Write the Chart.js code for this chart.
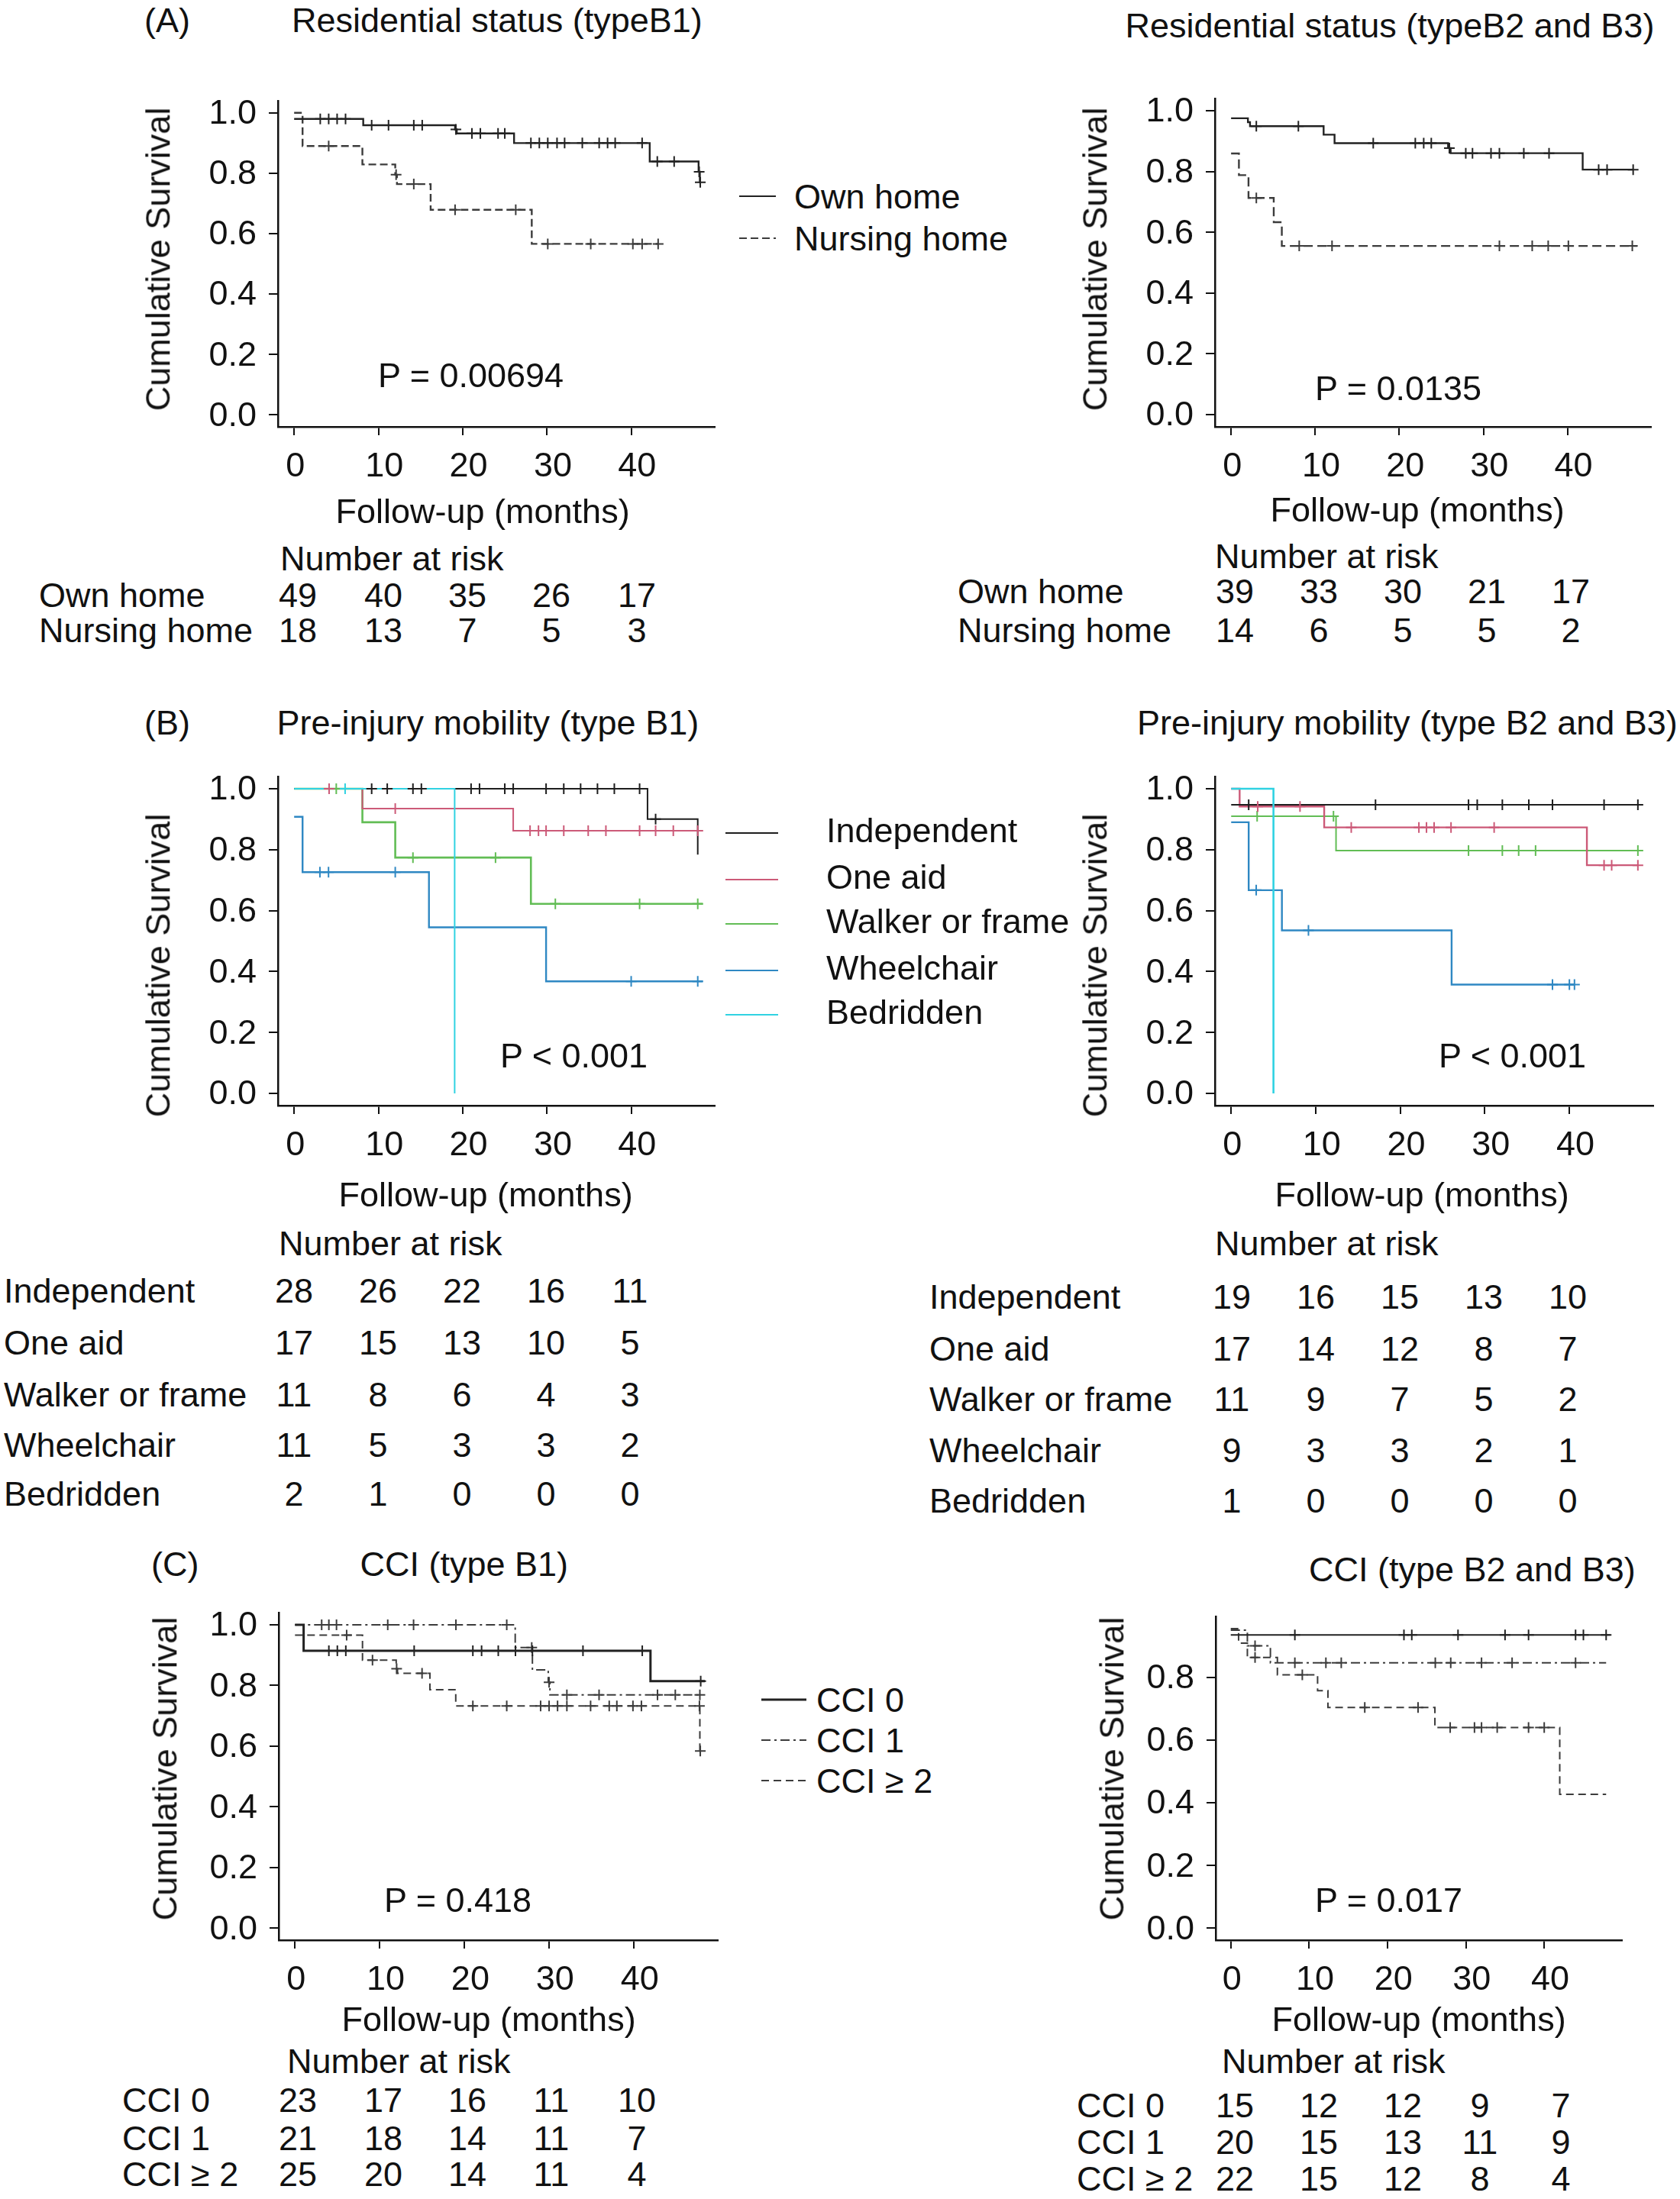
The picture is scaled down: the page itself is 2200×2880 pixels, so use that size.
<!DOCTYPE html>
<html><head><meta charset="utf-8">
<script src="https://cdn.jsdelivr.net/npm/chart.js@4.4.1/dist/chart.umd.min.js"></script>
<style>
html,body{margin:0;padding:0;background:#fff;}
#page{position:relative;width:2200px;height:2880px;overflow:hidden;background:#fff;font-family:'Liberation Sans',Arial,Helvetica,sans-serif;color:#111;}
.t{position:absolute;white-space:nowrap;}
canvas{position:absolute;}
svg{position:absolute;overflow:visible;}
</style></head><body><div id="page"></div>
<script>
// ---------------- DATA ----------------
const TIME_TICKS = [0, 10, 20, 30, 40];
const SURV_TICKS = [0, 0.2, 0.4, 0.6, 0.8, 1.0];
const SURV_TICKS_C2 = [0, 0.2, 0.4, 0.6, 0.8];

// (A) Residential status, type B1
const A1_own_t = [0, 8.2, 19.1, 19.3, 26.1, 42.2, 48.0, 48.15];
const A1_own_s = [0.980, 0.959, 0.945, 0.932, 0.900, 0.839, 0.805, 0.770];
const A1_own_c = [3.1, 4.1, 5.1, 6.1, 9.2, 11.2, 14.2, 15.2, 19.2, 21.1, 22.1, 24.2, 25.0, 28.1, 29.1, 30.1, 31.2, 32.1, 34.2, 36.2, 37.2, 38.1, 41.3, 43.1, 45.1, 48.07, 48.2];
const A1_nh_t = [0, 1.0, 8.1, 12.0, 12.2, 16.2, 28.2];
const A1_nh_s = [1.0, 0.890, 0.829, 0.795, 0.764, 0.679, 0.566];
const A1_nh_c = [4.1, 12.1, 14.2, 19.1, 26.3, 30.1, 35.2, 40.2, 41.3, 43.2];

// (A) Residential status, type B2 and B3
const A2_own_t = [0, 2.0, 2.25, 11.0, 12.3, 25.8, 26.1, 41.8];
const A2_own_s = [0.975, 0.962, 0.949, 0.921, 0.893, 0.877, 0.860, 0.806];
const A2_own_c = [3.0, 8.0, 16.9, 21.9, 22.9, 23.8, 25.95, 27.9, 28.7, 30.9, 31.9, 34.8, 37.8, 43.7, 44.7, 47.8];
const A2_nh_t = [0, 0.93, 2.07, 5.07, 6.03];
const A2_nh_s = [0.859, 0.788, 0.713, 0.633, 0.555];
const A2_nh_c = [3.0, 8.1, 12.0, 31.9, 35.8, 37.7, 40.1, 47.7];

// (B) Pre-injury mobility, type B1
const B1_ind_t = [0, 41.94, 47.9];
const B1_ind_s = [1.0, 0.900, 0.784];
const B1_ind_c = [9.2, 11.05, 14.1, 15.1, 21.0, 22.0, 25.0, 26.0, 29.9, 32.0, 34.0, 36.0, 38.0, 41.0, 42.9];
const B1_one_t = [0, 8.1, 26.0];
const B1_one_s = [1.0, 0.935, 0.862];
const B1_one_c = [4.15, 12.0, 28.0, 29.0, 29.9, 32.0, 34.9, 37.0, 41.0, 42.9, 45.0, 47.9];
const B1_wal_t = [0, 8.1, 12.0, 28.1];
const B1_wal_s = [1.0, 0.890, 0.774, 0.622];
const B1_wal_c = [5.0, 14.1, 23.9, 31.0, 41.0, 47.9];
const B1_whe_t = [0, 1.0, 16.0, 29.9];
const B1_whe_s = [0.908, 0.726, 0.545, 0.368];
const B1_whe_c = [3.06, 4.08, 12.0, 40.0, 47.9];
const B1_bed_t = [0, 19.05];
const B1_bed_s = [1.0, 0.0];
const B1_bed_c = [6.05];

// (B) Pre-injury mobility, type B2 and B3
const B2_ind_t = [0];
const B2_ind_s = [0.947];
const B2_ind_c = [2.07, 17.07, 28.07, 29.1, 32.07, 35.2, 38.0, 44.1, 48.1];
const B2_one_t = [0, 1.0, 11.0, 42.07];
const B2_one_s = [1.0, 0.9415, 0.873, 0.749];
const B2_one_c = [3.14, 8.14, 14.2, 22.2, 23.1, 24.0, 26.0, 31.1, 44.1, 45.0, 48.1];
const B2_wal_t = [0, 12.4];
const B2_wal_s = [0.910, 0.797];
const B2_wal_c = [3.07, 12.1, 28.07, 32.07, 34.0, 36.0, 48.1];
const B2_whe_t = [0, 2.07, 6.0, 26.07];
const B2_whe_s = [0.890, 0.667, 0.535, 0.357];
const B2_whe_c = [2.96, 9.14, 38.0, 40.0, 40.6];
const B2_bed_t = [0, 5.0];
const B2_bed_s = [1.0, 0.0];
const B2_bed_c = [];

// (C) CCI, type B1
const C1_c0_t = [0, 1.02, 41.97];
const C1_c0_s = [1.0, 0.914, 0.814];
const C1_c0_c = [4.0, 5.0, 6.0, 14.07, 21.0, 22.03, 24.0, 26.03, 28.03, 34.0, 41.0, 47.9];
const C1_c1_t = [0, 26.0, 28.03, 29.9, 30.1];
const C1_c1_s = [1.0, 0.925, 0.851, 0.810, 0.769];
const C1_c1_c = [3.15, 4.0, 4.9, 10.95, 14.0, 19.0, 25.0, 27.95, 30.0, 32.1, 35.9, 42.8, 44.9, 47.8];
const C1_c2_t = [0, 7.97, 11.95, 12.1, 15.93, 18.98, 47.8];
const C1_c2_s = [0.966, 0.883, 0.855, 0.840, 0.786, 0.732, 0.584];
const C1_c2_c = [6.1, 9.15, 12.0, 15.0, 21.0, 25.0, 29.0, 30.0, 31.0, 32.1, 34.9, 37.1, 38.0, 39.9, 40.9, 47.75, 47.85];

// (C) CCI, type B2 and B3
const C2_c0_t = [0];
const C2_c0_s = [0.935];
const C2_c0_c = [8.18, 22.1, 23.1, 29.0, 35.0, 38.0, 44.0, 45.0, 47.9];
const C2_c1_t = [0, 2.12, 5.06];
const C2_c1_s = [0.950, 0.900, 0.846];
const C2_c1_c = [3.1, 8.18, 12.14, 14.1, 26.1, 28.07, 32.0, 35.9, 44.0];
const C2_c2_t = [0, 1.0, 2.12, 5.95, 11.08, 12.4, 26.05, 41.98];
const C2_c2_s = [0.955, 0.909, 0.863, 0.808, 0.757, 0.704, 0.640, 0.427];
const C2_c2_c = [3.1, 9.13, 17.1, 23.9, 28.0, 31.1, 32.0, 34.0, 38.0, 40.0];

// Curve end times (last follow-up drawn)
const A1_end = [48.2, 43.2], A2_end = [47.8, 48.3];
const B1_end = [47.9, 48.5, 48.5, 48.5, 19.05], B2_end = [48.1, 48.1, 48.5, 40.6, 5.0];
const C1_end = [48.4, 47.8, 47.85], C2_end = [48.4, 47.9, 47.9];

// Number at risk tables
const A_groups = ['Own home', 'Nursing home'];
const A1_risk = [[49, 40, 35, 26, 17], [18, 13, 7, 5, 3]];
const A2_risk = [[39, 33, 30, 21, 17], [14, 6, 5, 5, 2]];
const B_groups = ['Independent', 'One aid', 'Walker or frame', 'Wheelchair', 'Bedridden'];
const B1_risk = [[28, 26, 22, 16, 11], [17, 15, 13, 10, 5], [11, 8, 6, 4, 3], [11, 5, 3, 3, 2], [2, 1, 0, 0, 0]];
const B2_risk = [[19, 16, 15, 13, 10], [17, 14, 12, 8, 7], [11, 9, 7, 5, 2], [9, 3, 3, 2, 1], [1, 0, 0, 0, 0]];
const C_groups = ['CCI 0', 'CCI 1', 'CCI \u2265 2'];
const C1_risk = [[23, 17, 16, 11, 10], [21, 18, 14, 11, 7], [25, 20, 14, 11, 4]];
const C2_risk = [[15, 12, 12, 9, 7], [20, 15, 13, 11, 9], [22, 15, 12, 8, 4]];

const P_VALUES = ['P = 0.00694', 'P = 0.0135', 'P < 0.001', 'P < 0.001', 'P = 0.418', 'P = 0.017'];

// ---------------- RENDERING ----------------
const FONT = "'Liberation Sans', Arial, Helvetica, sans-serif";
const FS = 45;
const INK = '#111';
const page = document.getElementById('page');

function txt(s, x, y, anchor, rot) {
  const d = document.createElement('div');
  d.className = 't';
  d.textContent = s;
  d.style.fontSize = FS + 'px';
  d.style.lineHeight = FS + 'px';
  page.appendChild(d);
  const w = d.offsetWidth;
  let left = x;
  if (anchor === 'center') left = x - w / 2;
  else if (anchor === 'right') left = x - w;
  d.style.left = left + 'px';
  d.style.top = (y - FS * 0.49) + 'px';
  if (rot) {
    d.style.left = (x - w / 2) + 'px';
    d.style.top = (y - FS / 2) + 'px';
    d.style.transform = 'rotate(-90deg)';
    d.style.transformOrigin = '50% 50%';
  }
  return d;
}

function legLine(x1, x2, y, color, dash, width) {
  const ns = 'http://www.w3.org/2000/svg';
  const svg = document.createElementNS(ns, 'svg');
  svg.setAttribute('width', x2 - x1);
  svg.setAttribute('height', 10);
  svg.style.left = x1 + 'px';
  svg.style.top = (y - 5) + 'px';
  const ln = document.createElementNS(ns, 'line');
  ln.setAttribute('x1', 0); ln.setAttribute('x2', x2 - x1);
  ln.setAttribute('y1', 5); ln.setAttribute('y2', 5);
  ln.setAttribute('stroke', color);
  ln.setAttribute('stroke-width', width || 2);
  if (dash) ln.setAttribute('stroke-dasharray', dash.join(' '));
  svg.appendChild(ln);
  page.appendChild(svg);
}

function stepData(t, s, end) {
  const d = t.map((x, i) => ({x: x, y: s[i]}));
  if (end > t[t.length - 1]) d.push({x: end, y: s[s.length - 1]});
  return d;
}
function censorData(t, s, c) {
  return c.map(ct => {
    let v = s[0];
    for (let i = 0; i < t.length; i++) if (t[i] <= ct) v = s[i];
    return {x: ct, y: v};
  });
}

Chart.defaults.font.family = FONT;
Chart.defaults.font.size = FS;
Chart.defaults.color = INK;

function makePanel(g, series, yTicks, ymin, ymax) {
  const YW = 140, XH = 100, PT = 50, PR = 50;
  const W = g.R - g.L + YW + PR, H = g.B - g.T + PT + XH;
  const cv = document.createElement('canvas');
  cv.width = W; cv.height = H;
  cv.style.width = W + 'px'; cv.style.height = H + 'px';
  cv.style.left = (g.L - YW) + 'px';
  cv.style.top = (g.T - PT) + 'px';
  page.appendChild(cv);
  const datasets = [];
  series.forEach((sr, i) => {
    datasets.push({
      type: 'line', data: stepData(sr.t, sr.s, sr.end), stepped: 'before',
      borderColor: sr.color, borderWidth: sr.width || 2.4, borderDash: sr.dash || [],
      pointRadius: 0, fill: false, order: 10 + (sr.order != null ? sr.order : i), tension: 0
    });
    datasets.push({
      type: 'line', data: censorData(sr.t, sr.s, sr.c), showLine: false,
      pointStyle: 'cross', pointRadius: 7, pointBorderWidth: 2,
      pointBorderColor: sr.color, pointBackgroundColor: sr.color, order: i
    });
  });
  new Chart(cv, {
    data: {datasets: datasets},
    options: {
      responsive: false, animation: false, devicePixelRatio: 1,
      layout: {padding: {left: 0, top: PT, right: PR, bottom: 0}},
      plugins: {legend: {display: false}, tooltip: {enabled: false}},
      scales: {
        x: {
          type: 'linear', min: -1.92, max: 49.92,
          afterBuildTicks: sc => { sc.ticks = TIME_TICKS.map(v => ({value: v})); },
          afterFit: sc => { sc.height = XH; },
          ticks: {callback: v => (v >= 10 ? ' ' : '') + String(v), padding: 15, labelOffset: 1.5, color: INK, maxRotation: 0, autoSkip: false, font: {size: FS, family: FONT}},
          grid: {display: true, drawOnChartArea: false, drawTicks: true, tickLength: 11, color: INK, lineWidth: 2},
          border: {display: true, color: INK, width: 2.5}
        },
        y: {
          type: 'linear', min: ymin, max: ymax,
          afterBuildTicks: sc => { sc.ticks = yTicks.map(v => ({value: v})); },
          afterFit: sc => { sc.width = YW; },
          ticks: {callback: v => v.toFixed(1), padding: 16, labelOffset: 2, color: INK, autoSkip: false, font: {size: FS, family: FONT}},
          grid: {display: true, drawOnChartArea: false, drawTicks: true, tickLength: 12, color: INK, lineWidth: 2},
          border: {display: true, color: INK, width: 2.5}
        }
      }
    }
  });
}

function riskTable(header, hx, hy, labels, lx, ys, rows, xs) {
  txt('Number at risk', hx, hy, 'left');
  labels.forEach((lb, i) => {
    txt(lb, lx, ys[i], 'left');
    rows[i].forEach((v, j) => txt(String(v), xs[j], ys[i], 'center'));
  });
}

const BLACK = '#222', DGRAY = '#3c3c3c';
const COL_IND = '#1e1e1e', COL_ONE = '#cc5a78', COL_WAL = '#62bd55', COL_WHE = '#2f88c3', COL_BED = '#30d2e2';

// ---- Panel A ----
txt('(A)', 189, 26, 'left');
txt('Residential status (typeB1)', 651, 26, 'center');
txt('Residential status (typeB2 and B3)', 1820, 33, 'center');
makePanel({L: 364, R: 936, T: 132, B: 559}, [
  {t: A1_own_t, s: A1_own_s, c: A1_own_c, end: A1_end[0], color: BLACK},
  {t: A1_nh_t, s: A1_nh_s, c: A1_nh_c, end: A1_end[1], color: DGRAY, dash: [10, 5]}
], SURV_TICKS, -0.04, 1.04);
makePanel({L: 1591, R: 2162, T: 129, B: 559}, [
  {t: A2_own_t, s: A2_own_s, c: A2_own_c, end: A2_end[0], color: BLACK},
  {t: A2_nh_t, s: A2_nh_s, c: A2_nh_c, end: A2_end[1], color: DGRAY, dash: [12, 6]}
], SURV_TICKS, -0.04, 1.04);
txt('Cumulative Survival', 207, 339, 'center', true);
txt('Cumulative Survival', 1434, 339, 'center', true);
txt(P_VALUES[0], 495, 491, 'left');
txt(P_VALUES[1], 1722, 508, 'left');
txt('Follow-up (months)', 632, 669, 'center');
txt('Follow-up (months)', 1856, 667, 'center');
legLine(968, 1016, 257, BLACK, null, 2);
legLine(968, 1016, 312, DGRAY, [10, 5], 2);
txt(A_groups[0], 1040, 257, 'left');
txt(A_groups[1], 1040, 312, 'left');
riskTable('Number at risk', 367, 731, A_groups, 51, [779, 825], A1_risk, [390, 502, 612, 722, 834]);
riskTable('Number at risk', 1591, 728, A_groups, 1254, [774, 825], A2_risk, [1617, 1727, 1837, 1947, 2057]);

// ---- Panel B ----
txt('(B)', 189, 946, 'left');
txt('Pre-injury mobility (type B1)', 639, 946, 'center');
txt('Pre-injury mobility (type B2 and B3)', 1843, 946, 'center');
makePanel({L: 364, R: 936, T: 1017, B: 1448}, [
  {t: B1_bed_t, s: B1_bed_s, c: B1_bed_c, end: B1_end[4], color: COL_BED, width: 2},
  {t: B1_ind_t, s: B1_ind_s, c: B1_ind_c, end: B1_end[0], color: COL_IND, width: 2},
  {t: B1_one_t, s: B1_one_s, c: B1_one_c, end: B1_end[1], color: COL_ONE, width: 2},
  {t: B1_wal_t, s: B1_wal_s, c: B1_wal_c, end: B1_end[2], color: COL_WAL, width: 2.6},
  {t: B1_whe_t, s: B1_whe_s, c: B1_whe_c, end: B1_end[3], color: COL_WHE, width: 2.4}
], SURV_TICKS, -0.04, 1.04);
makePanel({L: 1591, R: 2165, T: 1017, B: 1448}, [
  {t: B2_bed_t, s: B2_bed_s, c: B2_bed_c, end: B2_end[4], color: COL_BED, width: 2.6},
  {t: B2_ind_t, s: B2_ind_s, c: B2_ind_c, end: B2_end[0], color: COL_IND, width: 2},
  {t: B2_one_t, s: B2_one_s, c: B2_one_c, end: B2_end[1], color: COL_ONE, width: 2.4},
  {t: B2_wal_t, s: B2_wal_s, c: B2_wal_c, end: B2_end[2], color: COL_WAL, width: 2},
  {t: B2_whe_t, s: B2_whe_s, c: B2_whe_c, end: B2_end[3], color: COL_WHE, width: 2.4}
], SURV_TICKS, -0.04, 1.04);
txt('Cumulative Survival', 207, 1264, 'center', true);
txt('Cumulative Survival', 1434, 1264, 'center', true);
txt(P_VALUES[2], 655, 1382, 'left');
txt(P_VALUES[3], 1884, 1382, 'left');
txt('Follow-up (months)', 636, 1564, 'center');
txt('Follow-up (months)', 1862, 1564, 'center');
const B_cols = [COL_IND, COL_ONE, COL_WAL, COL_WHE, COL_BED];
const B_legY = [1087, 1148, 1206, 1267, 1325];
B_groups.forEach((gname, i) => {
  legLine(950, 1019, B_legY[i] + 4, B_cols[i], null, 2);
  txt(gname, 1082, B_legY[i], 'left');
});
riskTable('Number at risk', 365, 1628, B_groups, 5, [1690, 1758, 1826, 1892, 1956], B1_risk, [385, 495, 605, 715, 825]);
riskTable('Number at risk', 1591, 1628, B_groups, 1217, [1698, 1766, 1832, 1899, 1965], B2_risk, [1613, 1723, 1833, 1943, 2053]);

// ---- Panel C ----
txt('(C)', 198, 2048, 'left');
txt('CCI (type B1)', 608, 2048, 'center');
txt('CCI (type B2 and B3)', 1928, 2055, 'center');
const DASHDOT = [12, 5, 3, 5], DASHED = [10, 6];
makePanel({L: 365, R: 940, T: 2112, B: 2541}, [
  {t: C1_c0_t, s: C1_c0_s, c: C1_c0_c, end: C1_end[0], color: BLACK, width: 3},
  {t: C1_c1_t, s: C1_c1_s, c: C1_c1_c, end: C1_end[1], color: DGRAY, dash: DASHDOT, width: 2},
  {t: C1_c2_t, s: C1_c2_s, c: C1_c2_c, end: C1_end[2], color: DGRAY, dash: DASHED, width: 2}
], SURV_TICKS, -0.04, 1.04);
makePanel({L: 1592, R: 2124, T: 2117, B: 2541}, [
  {t: C2_c0_t, s: C2_c0_s, c: C2_c0_c, end: C2_end[0], color: BLACK, width: 2},
  {t: C2_c1_t, s: C2_c1_s, c: C2_c1_c, end: C2_end[1], color: DGRAY, dash: DASHDOT, width: 2},
  {t: C2_c2_t, s: C2_c2_s, c: C2_c2_c, end: C2_end[2], color: DGRAY, dash: DASHED, width: 2}
], SURV_TICKS_C2, -0.038, 0.994);
txt('Cumulative Survival', 216, 2316, 'center', true);
txt('Cumulative Survival', 1456, 2316, 'center', true);
txt(P_VALUES[4], 503, 2488, 'left');
txt(P_VALUES[5], 1722, 2488, 'left');
txt('Follow-up (months)', 640, 2644, 'center');
txt('Follow-up (months)', 1858, 2644, 'center');
legLine(997, 1056, 2226, BLACK, null, 3);
legLine(997, 1056, 2279, DGRAY, DASHDOT, 2);
legLine(997, 1056, 2332, DGRAY, DASHED, 2);
txt(C_groups[0], 1069, 2226, 'left');
txt(C_groups[1], 1069, 2279, 'left');
txt(C_groups[2], 1069, 2332, 'left');
riskTable('Number at risk', 376, 2699, C_groups, 160, [2750, 2800, 2847], C1_risk, [390, 502, 612, 722, 834]);
riskTable('Number at risk', 1600, 2699, C_groups, 1410, [2757, 2805, 2853], C2_risk, [1617, 1727, 1837, 1938, 2044]);
</script></body></html>
